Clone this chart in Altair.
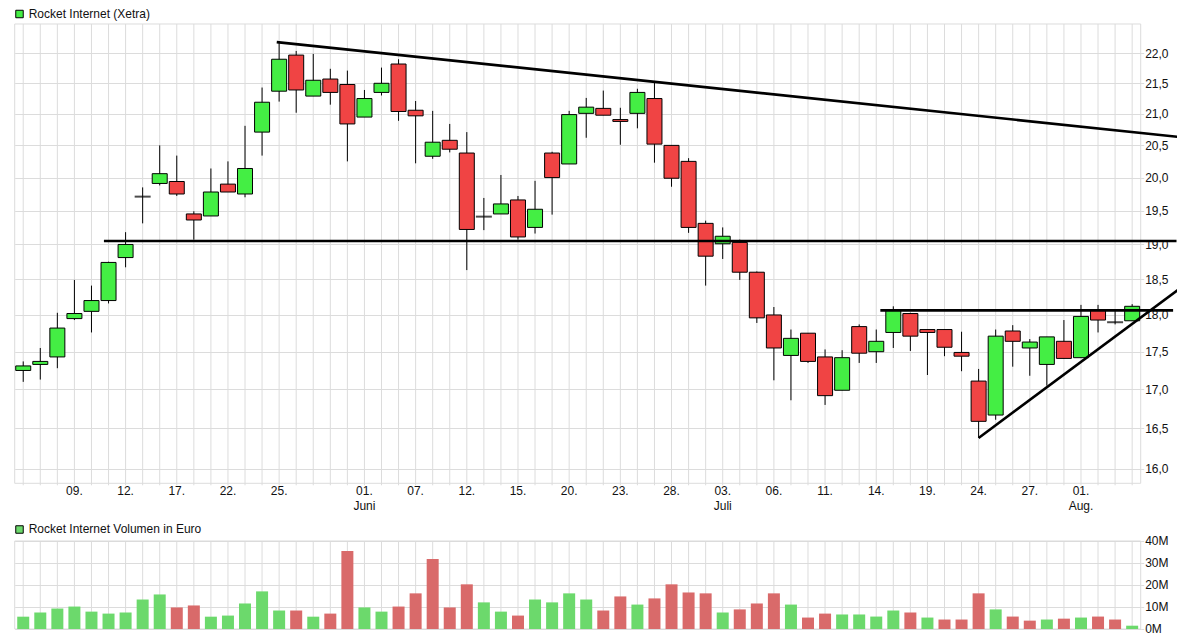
import altair as alt
import pandas as pd

# ---------------- data ----------------
title_price = "Rocket Internet (Xetra)"
title_volume = "Rocket Internet Volumen in Euro"

opens = [17.25, 17.33, 17.43, 17.95, 18.05, 18.20, 18.81, 19.71, 19.91, 19.94,
         19.45, 19.42, 19.90, 19.75, 20.71, 21.37, 21.97, 21.29, 21.57, 21.48,
         20.95, 21.35, 21.82, 21.06, 20.33, 20.58, 20.38, 19.41, 19.45, 19.66,
         19.25, 20.38, 20.21, 21.01, 21.09, 20.91, 21.01, 21.25, 20.50, 20.25,
         19.31, 19.01, 19.03, 18.60, 18.00, 17.45, 17.75, 17.43, 16.99, 17.84,
         17.50, 17.76, 18.02, 17.80, 17.80, 17.49, 17.11, 16.67, 17.78, 17.55,
         17.33, 17.64, 17.42, 18.07, 17.90, 17.92]
highs = [17.37, 17.55, 18.03, 18.49, 18.41, 18.75, 19.18, 19.85, 20.50, 20.34,
         19.49, 20.14, 20.25, 20.81, 21.43, 22.20, 22.04, 21.99, 21.74, 21.71,
         21.39, 21.76, 21.90, 21.21, 21.05, 20.84, 20.71, 19.69, 20.04, 19.72,
         19.95, 20.40, 21.05, 21.26, 21.38, 21.10, 21.41, 21.53, 20.50, 20.30,
         19.35, 19.25, 19.07, 18.61, 18.11, 17.80, 17.75, 17.53, 17.52, 17.87,
         17.80, 18.12, 18.03, 17.80, 17.80, 17.77, 17.27, 17.80, 17.86, 17.67,
         17.70, 17.93, 18.14, 18.14, 18.07, 18.15]
lows = [17.10, 17.13, 17.28, 17.93, 17.76, 18.16, 18.67, 19.31, 19.88, 19.72,
        19.07, 19.42, 19.78, 19.70, 20.34, 21.20, 21.02, 21.29, 21.15, 20.25,
        20.95, 21.30, 20.89, 20.22, 20.29, 20.39, 18.63, 19.21, 19.45, 19.07,
        19.16, 19.44, 20.21, 20.62, 20.98, 20.51, 20.77, 20.23, 19.86, 19.17,
        18.41, 18.79, 18.49, 17.89, 17.12, 16.86, 17.35, 16.80, 16.99, 17.35,
        17.35, 17.55, 17.51, 17.19, 17.44, 17.24, 16.38, 16.61, 17.30, 17.18,
        17.05, 17.41, 17.42, 17.76, 17.87, 17.92]
closes = [17.31, 17.37, 17.82, 18.02, 18.20, 18.74, 19.00, 19.71, 20.06, 19.75,
          19.36, 19.78, 19.78, 20.14, 21.19, 21.90, 21.39, 21.55, 21.35, 20.84,
          21.25, 21.50, 21.04, 20.97, 20.55, 20.44, 19.22, 19.41, 19.60, 19.11,
          19.52, 20.00, 20.99, 21.11, 20.98, 20.88, 21.35, 20.52, 19.99, 19.25,
          18.83, 19.12, 18.60, 17.96, 17.55, 17.68, 17.37, 16.92, 17.42, 17.48,
          17.64, 18.07, 17.71, 17.76, 17.56, 17.44, 16.59, 17.71, 17.64, 17.63,
          17.70, 17.41, 17.98, 17.93, 17.90, 18.12]
# volume in million euro
volumes = [5.6, 7.5, 9.3, 10.2, 7.9, 7.0, 7.5, 13.4, 15.7, 9.8,
           10.7, 5.6, 6.1, 11.6, 17.1, 8.4, 8.4, 5.6, 7.0, 35.4,
           9.8, 7.9, 10.2, 16.2, 31.8, 9.8, 20.3, 12.1, 7.9, 6.1,
           13.4, 12.1, 16.2, 13.4, 8.4, 14.8, 11.1, 13.9, 20.3, 16.6,
           16.2, 7.5, 8.9, 11.6, 16.2, 11.1, 5.2, 7.0, 6.6, 6.6,
           5.65, 8.4, 7.5, 5.2, 4.3, 4.3, 16.2, 8.9, 5.65, 3.8,
           4.3, 4.7, 5.2, 5.65, 4.3, 1.5]
# 1 = volume bar drawn green (close above previous close), 0 = red
vol_up = [1, 1, 1, 1, 1, 1, 1, 1, 1, 0,
          0, 1, 1, 1, 1, 1, 0, 1, 0, 0,
          1, 1, 0, 0, 0, 0, 0, 1, 1, 0,
          1, 1, 1, 1, 0, 0, 1, 0, 0, 0,
          0, 1, 0, 0, 0, 1, 0, 0, 1, 1,
          1, 1, 0, 1, 0, 0, 0, 1, 0, 0,
          1, 0, 1, 0, 0, 1]

tick_idx = [3, 6, 9, 12, 15, 20, 23, 26, 29, 32, 35, 38, 41, 44, 47, 50, 53, 56, 59, 62]
tick_lbl = ["09.", "12.", "17.", "22.", "25.", "01.", "07.", "12.", "15.", "20.",
            "23.", "28.", "03.", "06.", "11.", "14.", "19.", "24.", "27.", "01."]
month_idx = [20, 41, 62]
month_lbl = ["Juni", "Juli", "Aug."]

price_ticks = [16.0, 16.5, 17.0, 17.5, 18.0, 18.5, 19.0, 19.5, 20.0, 20.5, 21.0, 21.5, 22.0]
vol_ticks = [0, 10, 20, 30, 40]

# drawn trend lines: (trading-day index, price) end points
line_names = ["down", "down", "r19", "r19", "r18", "r18", "up", "up"]
line_idx = [14.86, 68.19, 4.73, 67.6, 50.24, 67.4, 56.0, 68.19]
line_val = [22.19, 20.62, 19.05, 19.05, 18.064, 18.064, 16.38, 18.44]

# ---------------- tables ----------------
n = len(opens)
df = pd.DataFrame({"i": list(range(n)), "open": opens, "high": highs, "low": lows,
                   "close": closes, "vol": volumes, "up": vol_up})
df["body_col"] = ["#44ee44" if c > o else ("#f04444" if c < o else "#000000")
                  for o, c in zip(opens, closes)]
df["vol_col"] = ["#6cd96c" if u else "#d96a6a" for u in vol_up]
trend = pd.DataFrame({"g": line_names, "i": line_idx, "v": line_val})
ticks_df = pd.DataFrame({"i": tick_idx, "lbl": tick_lbl})
months_df = pd.DataFrame({"i": month_idx, "lbl": month_lbl})
grid_df = pd.DataFrame({"i": list(range(n))})
one = pd.DataFrame({"a": [0]})

# ---------------- geometry ----------------
W = 1126
PH = 459.3          # price panel height
VT, VB = 517, 605   # volume panel top / bottom
H = 605
FONT = "Liberation Sans"
GRID = "#dcdcdc"
TXT = "#111111"

xs = alt.Scale(domain=[-0.5, 65.5], nice=False, zero=False, padding=0)
X = alt.X("i:Q", scale=xs, axis=None)

py_scale = alt.Scale(type="log", domain=[15.82, 22.5], range=[PH, 0], nice=False,
                     zero=False, padding=0)
py_axis = alt.Axis(orient="right", values=price_ticks,
                   labelExpr="replace(format(datum.value, '.1f'), '.', ',')",
                   grid=True, gridColor=GRID, domain=False, tickColor=GRID, tickSize=3,
                   labelPadding=1, title=None, labelFlush=False)
vy_scale = alt.Scale(domain=[0, 40], range=[VB, VT], nice=False, zero=True, padding=0)
vy_axis = alt.Axis(orient="right", values=vol_ticks, labelExpr="datum.value + 'M'",
                   grid=True, gridColor=GRID, domain=False, tickColor=GRID, tickSize=3,
                   labelPadding=1, title=None, labelFlush=False)

# background grid & frames
vgrid_p = alt.Chart(grid_df).mark_rule(color=GRID, strokeWidth=1).encode(
    x=X, y=alt.value(0), y2=alt.value(PH + 2))
vgrid_v = alt.Chart(grid_df).mark_rule(color=GRID, strokeWidth=1).encode(
    x=X, y=alt.value(VT), y2=alt.value(VB))
frame_p = alt.Chart(one).mark_rect(fill="transparent", stroke=GRID, strokeWidth=1).encode(
    x=alt.value(0), x2=alt.value(W), y=alt.value(0), y2=alt.value(PH))
frame_v = alt.Chart(one).mark_rect(fill="transparent", stroke=GRID, strokeWidth=1).encode(
    x=alt.value(0), x2=alt.value(W), y=alt.value(VT), y2=alt.value(VB))

# price panel
wicks = alt.Chart(df).mark_rule(color="black", strokeWidth=1).encode(
    x=X, y=alt.Y("low:Q", scale=py_scale, axis=py_axis), y2="high:Q")
bodies = alt.Chart(df).transform_filter("datum.open != datum.close").mark_bar(
    size=15, stroke="black", strokeWidth=1).encode(
    x=X, y=alt.Y("open:Q", scale=py_scale, axis=py_axis), y2="close:Q",
    fill=alt.Fill("body_col:N", scale=None))
dojis = alt.Chart(df).transform_filter("datum.open == datum.close").mark_tick(
    orient="horizontal", thickness=2, size=16, color="black").encode(
    x=X, y=alt.Y("open:Q", scale=py_scale, axis=py_axis))
lines = alt.Chart(trend).mark_line(color="black", strokeWidth=2.6, strokeCap="butt").encode(
    x=X, y=alt.Y("v:Q", scale=py_scale, axis=py_axis), detail="g:N")
price = alt.layer(wicks, bodies, dojis, lines)

# volume panel
vol = alt.Chart(df).mark_bar(size=12).encode(
    x=X, y=alt.Y("vol:Q", scale=vy_scale, axis=vy_axis),
    fill=alt.Fill("vol_col:N", scale=None))

# x labels
xl = alt.Chart(ticks_df).mark_text(font=FONT, fontSize=12, color=TXT, baseline="middle",
                                   align="center").encode(x=X, y=alt.value(467.5), text="lbl:N")
ml = alt.Chart(months_df).mark_text(font=FONT, fontSize=12, color=TXT, baseline="middle",
                                    align="center").encode(x=X, y=alt.value(482), text="lbl:N")

# panel titles with legend squares
t1 = alt.Chart(pd.DataFrame({"t": [title_price]})).mark_text(
    font=FONT, fontSize=12, color=TXT, align="left", baseline="middle").encode(
    x=alt.value(14), y=alt.value(-10), text="t:N")
s1 = alt.Chart(one).mark_square(size=56, filled=True, fill="#44ee44", stroke="black",
                                strokeWidth=1, opacity=1).encode(x=alt.value(4.8), y=alt.value(-10))
t2 = alt.Chart(pd.DataFrame({"t": [title_volume]})).mark_text(
    font=FONT, fontSize=12, color=TXT, align="left", baseline="middle").encode(
    x=alt.value(14), y=alt.value(505.5), text="t:N")
s2 = alt.Chart(one).mark_square(size=56, filled=True, fill="#6cd96c", stroke="black",
                                strokeWidth=1, opacity=1).encode(x=alt.value(4.8), y=alt.value(505.5))

chart = alt.layer(
    vgrid_p, vgrid_v, frame_p, frame_v, price, vol, xl, ml, t1, s1, t2, s2
).resolve_scale(y="independent").properties(
    width=W, height=H,
    autosize=alt.AutoSizeParams(type="none"),
    padding={"left": 6.7, "top": 16, "right": 36, "bottom": 6},
    background="white",
).configure_view(strokeWidth=0).configure_axis(
    labelFont=FONT, labelFontSize=12, labelColor=TXT)

chart.save("out.html", embed_options={"renderer": "svg", "actions": False})
